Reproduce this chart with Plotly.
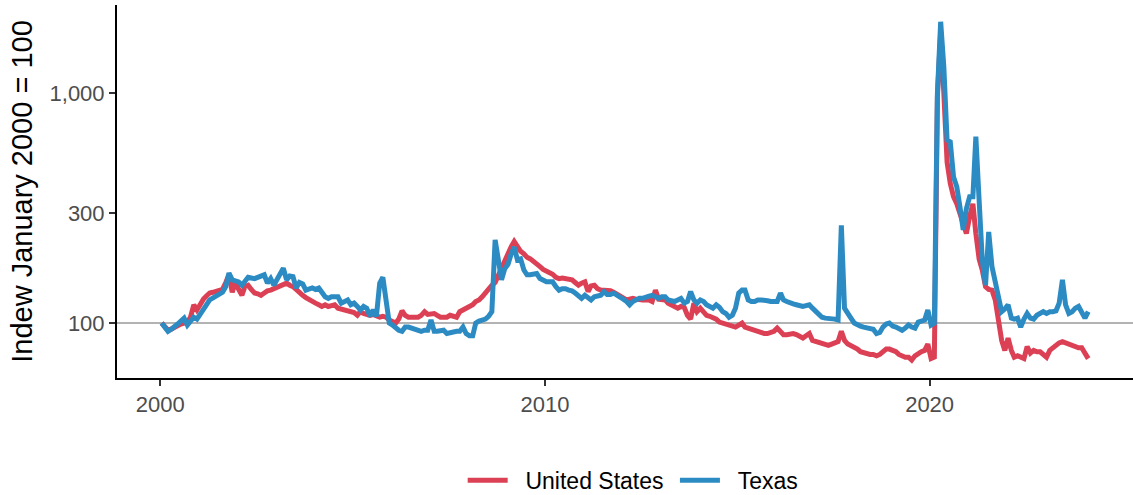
import pandas as pd
import plotly.graph_objects as go

start_month = "2000-01-01"

united_states = [
    100, 97, 93, 94, 96, 98, 99, 100, 101, 106, 120, 114,
    121, 127, 131, 135, 136, 137, 138, 140, 150, 162, 136, 151,
    140, 132, 144, 146, 140, 135, 134, 132, 135, 138, 139, 141,
    143, 146, 148, 149, 146, 144, 140, 135, 132, 129, 126, 124,
    122, 120, 118, 120, 118, 119, 120, 116, 115, 114, 113, 112,
    111, 108, 112, 110, 109, 108, 109, 108, 106, 107, 106, 103,
    102, 100, 104, 113, 108, 106, 106, 106, 106, 108, 112, 109,
    109, 110, 108, 106, 106, 106, 108, 107, 106, 112, 114, 116,
    118, 120, 124, 126, 130, 136, 142, 146, 150, 162, 172, 188,
    200, 215, 226, 215, 205, 200, 193, 190, 186, 180, 176, 171,
    168, 166, 163, 158, 156, 157, 156, 155, 154, 150, 146, 149,
    151, 137, 145, 146, 141, 139, 139, 139, 138, 136, 133, 130,
    128, 126, 127, 128, 127, 126, 126, 126, 126, 124, 139, 127,
    126, 126, 122, 120, 117, 116, 118, 117, 108, 104, 122, 112,
    116, 112, 108, 107, 106, 104, 101, 100, 99, 98, 97, 96,
    98, 100, 96, 95, 94, 93, 91, 90, 90, 90, 91, 92,
    95, 91, 89, 89, 90, 90, 89, 88, 86, 88, 90, 84,
    83, 82, 81, 80, 80, 81, 82, 83, 92, 84, 81, 80,
    79, 77, 75, 74, 74, 73, 73, 72, 73, 75, 77, 77,
    76, 75, 73, 72, 71, 71, 69, 72, 74, 75, 76, 81,
    70, 71, 960, 1850, 1000, 500, 405, 354, 330, 300, 271, 245,
    290, 330, 245, 190, 170, 144, 140, 139, 126, 106, 84, 76,
    86, 76, 71, 72, 71, 70, 79, 74, 76, 75, 75, 73,
    71, 76, 78, 80, 82, 83, 82, 80, 80, 78, 78, 78,
    73, 70,
]

texas = [
    100, 96, 92, 94, 96, 99, 102, 105, 98, 103, 106, 104,
    110, 114, 120, 126, 128, 130, 132, 136, 144, 165, 154, 152,
    151, 146, 152, 158, 157, 156, 158, 160, 162, 149, 156, 146,
    155, 162, 173, 154, 160, 159, 142, 150, 148, 139, 140, 142,
    140, 142, 136, 130, 128, 130, 130, 130, 122, 124, 126, 120,
    122, 118, 114, 118, 116, 107, 114, 107, 149, 158, 120, 100,
    98, 95, 93, 92, 96, 96, 95, 93, 92, 92, 93, 93,
    103, 92, 92, 92, 93, 90, 91, 92, 92, 92, 96, 90,
    88, 88, 100, 102, 103, 104, 107, 112, 230, 195, 154, 172,
    180, 200, 214, 188, 190, 170, 162, 162, 162, 164, 156, 153,
    151, 151, 151, 144, 139, 141, 141, 139, 138, 135, 131, 128,
    132, 128, 126, 130, 131, 132, 137, 133, 133, 135, 132, 130,
    127, 124, 120, 124, 126, 128, 128, 130, 131, 132, 130, 128,
    130, 130, 126, 125, 124, 126, 128, 122, 124, 137, 126, 122,
    126, 124, 120, 118, 116, 120, 117, 112, 110, 106, 108, 116,
    135, 139, 139, 126, 124, 124, 126, 126, 126, 125, 124, 124,
    124, 135, 126, 124, 122, 121, 120, 119, 118, 119, 120, 116,
    112, 109, 106, 105, 105, 105, 104, 103, 266, 116, 109, 105,
    100, 98, 97, 96, 95, 95, 94, 90, 91, 96, 99, 100,
    97, 96, 95, 93, 95, 98, 96, 95, 101, 102, 103, 114,
    98, 100, 995, 2040, 1300, 624, 613, 432, 391, 320, 254, 314,
    354, 354, 646, 342, 188, 146, 249, 176, 149, 130, 112, 115,
    120, 105, 104, 105, 96, 104, 110, 105, 104, 108, 110, 112,
    110, 112, 112, 113, 122, 154, 120, 110, 112, 116, 118, 112,
    105, 112,
]

series_names = ["United States", "Texas"]
series_colors = ["#DB4055", "#2D8BC3"]
y_tick_values = [100, 300, 1000]
y_tick_labels = ["100", "300", "1,000"]
x_tick_years = ["2000", "2010", "2020"]
y_title = "Indew January 2000 = 100"

dates = pd.date_range(start=start_month, periods=len(united_states), freq="MS") + pd.Timedelta(days=14)

NBSP = "\u00a0"
fig = go.Figure()
for name, vals, col in zip(series_names, [united_states, texas], series_colors):
    fig.add_trace(go.Scatter(
        x=dates, y=vals, mode="lines",
        name=NBSP * 2 + name + NBSP,
        line=dict(color=col, width=5, shape="linear"),
    ))

fig.add_hline(y=100, line=dict(color="#B3B3B3", width=2), layer="below")

font_family = "Liberation Sans, Arial, sans-serif"
fig.update_layout(
    width=1133, height=495,
    margin=dict(l=117, r=0, t=5, b=117, autoexpand=False),
    paper_bgcolor="white", plot_bgcolor="white",
    font=dict(family=font_family, color="#4D4D4D", size=22),
    showlegend=True,
    legend=dict(
        orientation="h", x=0.511, xanchor="center", y=-0.274, yanchor="middle",
        font=dict(size=23, color="black", family=font_family),
        itemwidth=40, traceorder="normal",
    ),
)
fig.update_xaxes(
    range=["1998-11-17", "2025-04-15"],
    tickvals=[pd.Timestamp(y + "-01-01") for y in x_tick_years],
    ticktext=x_tick_years,
    showgrid=False, zeroline=False,
    showline=True, linecolor="black", linewidth=2,
    ticks="outside", ticklen=6, tickwidth=1.5, tickcolor="#333333",
    tickfont=dict(size=22, color="#4D4D4D"),
)
fig.update_yaxes(
    type="log",
    range=[1.7609, 3.3826],
    tickvals=y_tick_values, ticktext=y_tick_labels,
    showgrid=False, zeroline=False,
    showline=True, linecolor="black", linewidth=2,
    ticks="outside", ticklen=6, tickwidth=1.5, tickcolor="#333333",
    tickfont=dict(size=22, color="#4D4D4D"),
    title=dict(text=y_title, font=dict(size=29, color="black"), standoff=8),
)

fig.write_html(
    "out.html",
    config={"displayModeBar": False},
    post_script="document.body.style.margin='0';",
)
